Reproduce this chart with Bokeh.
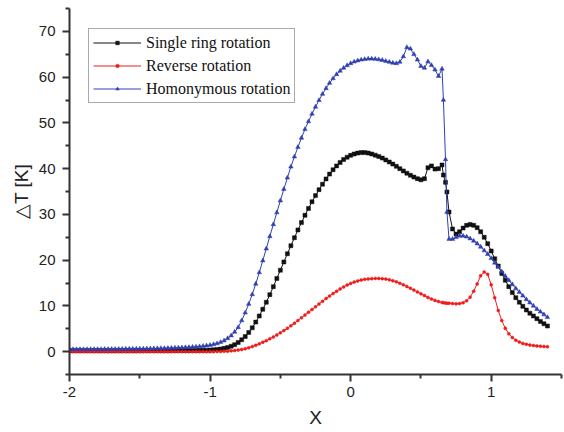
from bokeh.plotting import figure
from bokeh.models import Range1d, FixedTicker, Legend, LegendItem
from bokeh.embed import file_html
from bokeh.resources import INLINE

# ---------------- data ----------------
x = [
    -2.000, -1.975, -1.950, -1.925, -1.900, -1.875, -1.850, -1.825, -1.800, -1.775,
    -1.750, -1.725, -1.700, -1.675, -1.650, -1.625, -1.600, -1.575, -1.550, -1.525,
    -1.500, -1.475, -1.450, -1.425, -1.400, -1.375, -1.350, -1.325, -1.300, -1.275,
    -1.250, -1.225, -1.200, -1.175, -1.150, -1.125, -1.100, -1.075, -1.050, -1.025,
    -1.000, -0.975, -0.950, -0.925, -0.900, -0.875, -0.850, -0.825, -0.800, -0.775,
    -0.750, -0.725, -0.700, -0.675, -0.650, -0.625, -0.600, -0.575, -0.550, -0.525,
    -0.500, -0.475, -0.450, -0.425, -0.400, -0.375, -0.350, -0.325, -0.300, -0.275,
    -0.250, -0.225, -0.200, -0.175, -0.150, -0.125, -0.100, -0.075, -0.050, -0.025,
    0.000, 0.025, 0.050, 0.075, 0.100, 0.125, 0.150, 0.175, 0.200, 0.225,
    0.250, 0.275, 0.300, 0.325, 0.350, 0.375, 0.400, 0.425, 0.450, 0.475,
    0.500, 0.525, 0.550, 0.575, 0.600, 0.625, 0.650, 0.660, 0.675, 0.685,
    0.700, 0.725, 0.750, 0.775, 0.800, 0.825, 0.850, 0.875, 0.900, 0.925,
    0.950, 0.975, 1.000, 1.025, 1.050, 1.075, 1.100, 1.125, 1.150, 1.175,
    1.200, 1.225, 1.250, 1.275, 1.300, 1.325, 1.350, 1.375, 1.400,
]

single_ring = [
    0.20, 0.20, 0.20, 0.20, 0.20, 0.20, 0.20, 0.20, 0.20, 0.20,
    0.20, 0.20, 0.20, 0.20, 0.20, 0.20, 0.20, 0.20, 0.20, 0.20,
    0.22, 0.22, 0.22, 0.22, 0.22, 0.22, 0.22, 0.22, 0.22, 0.22,
    0.25, 0.25, 0.25, 0.25, 0.25, 0.27, 0.27, 0.28, 0.30, 0.32,
    0.35, 0.40, 0.48, 0.58, 0.72, 0.92, 1.18, 1.52, 2.00, 2.60,
    3.30, 4.20, 5.20, 6.45, 7.80, 9.25, 10.80, 12.45, 14.20, 16.00,
    17.80, 19.60, 21.40, 23.15, 24.90, 26.60, 28.20, 29.80, 31.30, 32.75,
    34.10, 35.40, 36.60, 37.75, 38.80, 39.75, 40.60, 41.35, 42.00, 42.50,
    42.90, 43.20, 43.40, 43.50, 43.50, 43.40, 43.20, 42.95, 42.65, 42.30,
    41.90, 41.45, 41.00, 40.50, 40.00, 39.50, 39.00, 38.55, 38.15, 37.80,
    37.55, 37.80, 40.20, 40.60, 39.90, 40.00, 40.80, 38.60, 37.00, 34.90,
    30.50, 26.80, 25.70, 26.20, 27.00, 27.60, 27.80, 27.60, 27.10, 26.20,
    25.00, 23.60, 22.00, 20.30, 18.70, 17.10, 15.60, 14.20, 12.90, 11.80,
    10.80, 9.90, 9.10, 8.40, 7.80, 7.20, 6.60, 6.10, 5.60,
]

reverse = [
    0.00, 0.00, 0.00, 0.00, 0.00, 0.00, 0.00, 0.00, 0.00, 0.00,
    0.00, 0.00, 0.00, 0.00, 0.00, 0.00, 0.00, 0.00, 0.00, 0.00,
    0.00, 0.00, 0.00, 0.00, 0.00, 0.00, 0.00, 0.00, 0.00, 0.00,
    0.00, 0.00, 0.00, 0.00, 0.00, 0.00, 0.00, 0.00, 0.00, 0.00,
    0.00, 0.00, 0.01, 0.03, 0.06, 0.10, 0.17, 0.25, 0.35, 0.48,
    0.65, 0.85, 1.10, 1.40, 1.70, 2.05, 2.40, 2.80, 3.20, 3.65,
    4.10, 4.60, 5.10, 5.65, 6.20, 6.80, 7.40, 8.00, 8.60, 9.20,
    9.80, 10.40, 11.00, 11.60, 12.15, 12.70, 13.20, 13.70, 14.15, 14.55,
    14.90, 15.20, 15.45, 15.65, 15.80, 15.90, 15.95, 16.00, 16.00, 15.95,
    15.85, 15.70, 15.50, 15.25, 14.95, 14.60, 14.25, 13.85, 13.45, 13.05,
    12.65, 12.25, 11.85, 11.50, 11.20, 10.95, 10.75, 10.70, 10.62, 10.58,
    10.60, 10.50, 10.45, 10.50, 10.70, 11.10, 11.90, 13.20, 14.80, 16.60,
    17.40, 16.90, 14.60, 11.80, 9.00, 6.80, 5.10, 3.90, 3.10, 2.50,
    2.10, 1.80, 1.60, 1.45, 1.35, 1.25, 1.18, 1.12, 1.08,
]

homonymous = [
    0.50, 0.50, 0.50, 0.50, 0.50, 0.50, 0.52, 0.52, 0.52, 0.52,
    0.54, 0.54, 0.55, 0.55, 0.56, 0.57, 0.58, 0.59, 0.60, 0.61,
    0.62, 0.63, 0.64, 0.66, 0.68, 0.70, 0.72, 0.74, 0.76, 0.79,
    0.82, 0.85, 0.88, 0.92, 0.96, 1.00, 1.05, 1.12, 1.20, 1.30,
    1.42, 1.58, 1.78, 2.05, 2.40, 2.90, 3.50, 4.30, 5.30, 6.80,
    8.50, 10.40, 12.50, 14.80, 17.30, 19.90, 22.50, 25.20, 27.80, 30.40,
    33.00, 35.50, 38.00, 40.40, 42.60, 44.70, 46.70, 48.60, 50.30, 51.95,
    53.50, 54.95, 56.30, 57.55, 58.70, 59.70, 60.60, 61.35, 62.00, 62.55,
    63.00, 63.35, 63.60, 63.80, 63.90, 64.00, 64.00, 63.95, 63.85, 63.70,
    63.50, 63.30, 63.10, 63.00, 63.30, 64.50, 66.50, 66.20, 65.00, 63.80,
    62.40, 62.00, 63.40, 62.60, 61.60, 60.20, 61.80, 55.00, 42.00, 30.50,
    24.60, 24.60, 25.00, 25.30, 25.30, 25.10, 24.70, 24.20, 23.60, 22.90,
    22.10, 21.30, 20.40, 19.40, 18.50, 17.50, 16.50, 15.60, 14.70, 13.80,
    13.00, 12.20, 11.40, 10.70, 10.00, 9.30, 8.70, 8.10, 7.50,
]

series_names = ["Single ring rotation", "Reverse rotation", "Homonymous rotation"]
x_ticks = [-2, -1, 0, 1]
x_tick_labels = ["-2", "-1", "0", "1"]
x_minor = [-1.5, -0.5, 0.5, 1.5]
y_ticks = [0, 10, 20, 30, 40, 50, 60, 70]
y_tick_labels = ["0", "10", "20", "30", "40", "50", "60", "70"]
y_minor = [-5, 5, 15, 25, 35, 45, 55, 65, 75]

# ---------------- figure ----------------
p = figure(width=564, height=432, output_backend="svg", toolbar_location=None,
           x_range=Range1d(-2, 1.5), y_range=Range1d(-5, 75),
           min_border_left=69, min_border_right=3, min_border_top=8,
           min_border_bottom=58)
p.outline_line_color = None
p.xgrid.visible = False
p.ygrid.visible = False
p.background_fill_color = "white"
p.border_fill_color = "white"

colors = ["#111111", "#ee1c1c", "#3040b0"]
markers = ["square", "circle", "triangle"]
sizes = [4, 3, 4.5]
ys = [single_ring, reverse, homonymous]

items = []
for name, yv, c, m, s in zip(series_names, ys, colors, markers, sizes):
    lr = p.line(x, yv, line_color=c, line_width=1)
    sr = p.scatter(x, yv, marker=m, size=s, fill_color=c, line_color=c, line_width=0.5)
    items.append(LegendItem(label=name, renderers=[lr, sr]))

legend = Legend(items=items, location=(19, 271))
legend.border_line_color = "#555555"
legend.border_line_width = 1
legend.background_fill_color = "white"
legend.background_fill_alpha = 1
legend.padding = 4
legend.spacing = 4
legend.margin = 0
legend.label_standoff = 5
legend.glyph_width = 48
legend.glyph_height = 9
legend.label_height = 19
legend.label_text_font = "Liberation Serif"
legend.label_text_font_size = "16px"
legend.label_text_color = "#111111"
p.add_layout(legend)

for ax in (p.xaxis[0], p.yaxis[0]):
    ax.axis_line_width = 2
    ax.axis_line_color = "#333333"
    ax.major_tick_line_color = "#333333"
    ax.minor_tick_line_color = "#333333"
    ax.major_tick_line_width = 2
    ax.minor_tick_line_width = 2
    ax.major_tick_in = 0
    ax.major_tick_out = 7
    ax.minor_tick_in = 0
    ax.minor_tick_out = 4
    ax.major_label_text_font = "Liberation Sans"
    ax.major_label_text_font_size = "15px"
    ax.major_label_text_color = "#222222"
    ax.axis_label_text_font = "Liberation Sans"
    ax.axis_label_text_font_size = "19px"
    ax.axis_label_text_font_style = "normal"
    ax.axis_label_text_color = "#222222"

p.xaxis[0].ticker = FixedTicker(ticks=x_ticks, minor_ticks=x_minor)
p.xaxis[0].major_label_overrides = dict(zip(x_ticks, x_tick_labels))
p.xaxis[0].axis_label = "X"
p.xaxis[0].major_label_standoff = 5
p.xaxis[0].axis_label_standoff = 7

p.yaxis[0].ticker = FixedTicker(ticks=y_ticks, minor_ticks=y_minor)
p.yaxis[0].major_label_overrides = dict(zip(y_ticks, y_tick_labels))
p.yaxis[0].axis_label = "△T [K]"
p.yaxis[0].major_label_standoff = 7
p.yaxis[0].axis_label_standoff = 4

open("out.html", "w").write(file_html(p, INLINE))
